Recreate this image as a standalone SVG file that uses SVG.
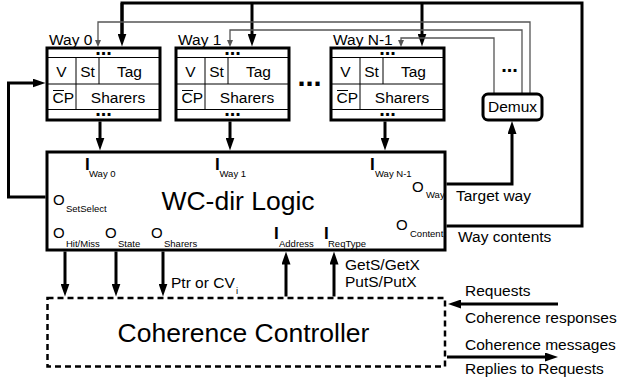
<svg xmlns="http://www.w3.org/2000/svg" width="621" height="383" viewBox="0 0 621 383">
<style>
text{font-family:"Liberation Sans",Arial,sans-serif;fill:#000}
.cell{font-size:15.5px}
.mid{text-anchor:middle}
.dots{font-size:20px;font-weight:bold;text-anchor:middle}
.thick{stroke:#000;stroke-width:3;fill:none}
.thin{stroke:#000;stroke-width:1;fill:none}
.gray{stroke:#555;stroke-width:1.3;fill:none}
.box{stroke:#000;stroke-width:3;fill:#fff}
.io{font-size:15px}
.ii{font-size:17px;font-weight:bold}
.sub{font-size:9.5px}
.lab{font-size:15.5px}
.big{font-size:26.5px;text-anchor:middle}
</style>
<defs>
<marker id="a" viewBox="0 0 13 9" refX="3" refY="4.5" markerWidth="13" markerHeight="9" orient="auto" markerUnits="userSpaceOnUse"><path d="M0,0L13,4.5L0,9z" fill="#000"/></marker>
<marker id="t" viewBox="0 0 7 6" refX="1" refY="3" markerWidth="7" markerHeight="6" orient="auto" markerUnits="userSpaceOnUse"><path d="M0,0L7,3L0,6z" fill="#555"/></marker>
<g id="wayproto">
<rect class="box" x="0" y="0" width="113" height="72"/>
<line class="thin" x1="0" y1="9.5" x2="113" y2="9.5"/>
<line class="thin" x1="0" y1="36" x2="113" y2="36"/>
<line class="thin" x1="0" y1="61.5" x2="113" y2="61.5"/>
<line class="thin" x1="29" y1="9.5" x2="29" y2="61.5"/>
<line class="thin" x1="52" y1="9.5" x2="52" y2="36"/>
<text class="dots" x="56.5" y="6.5">...</text>
<text class="dots" x="56.5" y="68">...</text>
<text class="cell mid" x="14.5" y="29">V</text>
<text class="cell mid" x="40.5" y="29">St</text>
<text class="cell mid" x="82.5" y="29">Tag</text>
<text class="cell" x="5.5" y="55">CP</text>
<line class="thin" x1="6" y1="42.5" x2="17" y2="42.5"/>
<text class="cell mid" x="71" y="55">Sharers</text>
</g>
</defs>

<g id="connectors">
<polyline class="thick" points="122,36.5 122,3 582,3 582,226 446.5,226"/>
<line class="thick" x1="252" y1="3" x2="252" y2="36.5" marker-end="url(#a)"/>
<line class="thick" x1="122" y1="3" x2="122" y2="36.5" marker-end="url(#a)"/>
<line class="thick" x1="422" y1="3" x2="422" y2="36.5" marker-end="url(#a)"/>
<polyline class="gray" points="530,94 530,22 98,22 98,41" marker-end="url(#t)"/>
<polyline class="gray" points="522,94 522,30 230,30 230,41" marker-end="url(#t)"/>
<polyline class="gray" points="494,94 494,38 401,38 401,41" marker-end="url(#t)"/>
<line class="thick" x1="100" y1="121.5" x2="100" y2="140.5" marker-end="url(#a)"/>
<line class="thick" x1="230" y1="121.5" x2="230" y2="140.5" marker-end="url(#a)"/>
<line class="thick" x1="385" y1="121.5" x2="385" y2="140.5" marker-end="url(#a)"/>
<polyline class="thick" points="45.5,197 8.5,197 8.5,83 35.5,83" marker-end="url(#a)"/>
<polyline class="thick" points="446.5,184 512,184 512,131" marker-end="url(#a)"/>
<line class="thick" x1="65" y1="251.5" x2="65" y2="286.5" marker-end="url(#a)"/>
<line class="thick" x1="116" y1="251.5" x2="116" y2="286.5" marker-end="url(#a)"/>
<line class="thick" x1="163" y1="251.5" x2="163" y2="286.5" marker-end="url(#a)"/>
<line class="thick" x1="286" y1="296.5" x2="286" y2="261.5" marker-end="url(#a)"/>
<line class="thick" x1="334" y1="296.5" x2="334" y2="261.5" marker-end="url(#a)"/>
<line class="thick" x1="558" y1="304" x2="458" y2="304" marker-end="url(#a)"/>
<line class="thick" x1="447" y1="357" x2="548" y2="357" marker-end="url(#a)"/>
</g>

<g id="way0">
<text class="lab" x="49" y="45">Way 0</text>
<use href="#wayproto" x="47" y="48"/>
</g>
<g id="way1">
<text class="lab" x="178" y="45">Way 1</text>
<use href="#wayproto" x="176" y="48"/>
</g>
<g id="waydots">
<text x="309.5" y="85.5" style="font-size:29px;font-weight:bold;text-anchor:middle">...</text>
</g>
<g id="wayN1">
<text class="lab" x="333" y="45">Way N-1</text>
<use href="#wayproto" x="331" y="48"/>
</g>
<g id="demux">
<rect class="box" x="483" y="94" width="59" height="26" rx="5"/>
<text class="lab mid" x="512.5" y="112">Demux</text>
<text class="dots" x="509.5" y="71.7">...</text>
</g>

<g id="logic">
<rect class="box" x="47" y="152" width="398" height="98"/>
<text class="big" x="238" y="210">WC-dir Logic</text>
<text class="ii" x="85" y="170">I</text><text class="sub" x="89" y="177">Way 0</text>
<text class="ii" x="215" y="170">I</text><text class="sub" x="219.5" y="177">Way 1</text>
<text class="ii" x="370" y="170">I</text><text class="sub" x="375" y="177">Way N-1</text>
<text class="io" x="53" y="205">O</text><text class="sub" x="66" y="212">SetSelect</text>
<text class="io" x="53" y="238">O</text><text class="sub" x="66" y="247">Hit/Miss</text>
<text class="io" x="105" y="238">O</text><text class="sub" x="118" y="247">State</text>
<text class="io" x="151" y="238">O</text><text class="sub" x="164" y="247">Sharers</text>
<text class="ii" x="274" y="239">I</text><text class="sub" x="279" y="247">Address</text>
<text class="ii" x="324" y="239">I</text><text class="sub" x="328" y="247">ReqType</text>
<text class="io" x="412" y="192">O</text><text class="sub" x="426" y="198">Way</text>
<text class="io" x="396" y="230">O</text><text class="sub" x="410" y="237">Content</text>
</g>

<g id="labels">
<text class="lab" x="456" y="201">Target way</text>
<text class="lab" x="458" y="241.5">Way contents</text>
<text class="lab" x="171" y="288">Ptr or CV</text><text class="sub" x="236" y="294">i</text>
<text class="lab" x="345" y="270">GetS/GetX</text>
<text class="lab" x="345" y="287">PutS/PutX</text>
<text class="lab" x="465" y="296">Requests</text>
<text class="lab" x="465" y="323">Coherence responses</text>
<text class="lab" x="465" y="350">Coherence messages</text>
<text class="lab" x="465" y="374">Replies to Requests</text>
</g>

<g id="controller">
<rect x="47.5" y="298" width="397.5" height="68.5" fill="none" stroke="#000" stroke-width="2.5" stroke-dasharray="6,4"/>
<text class="big" x="243.5" y="342">Coherence Controller</text>
</g>
</svg>
